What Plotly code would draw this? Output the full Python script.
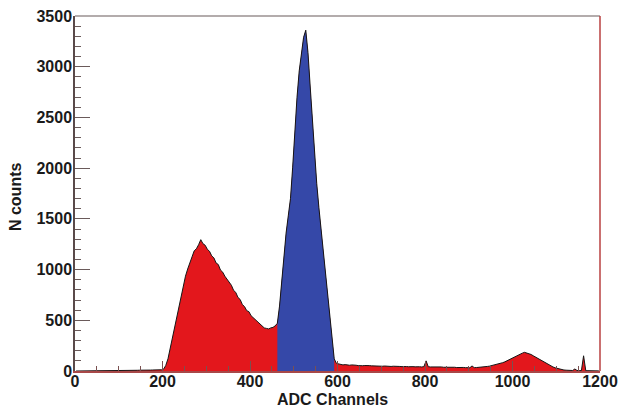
import plotly.graph_objects as go

# Histogram: 5-channel bins from 0 to 1200 (left edges)
bin_width = 5
counts_low = [0, 0, 0, 1, 2, 2, 3, 2, 3, 4, 3, 4, 3, 5, 4, 4, 5, 4, 5, 6,
              5, 6, 5, 6, 7, 6, 7, 6, 7, 8, 7, 8, 9, 8, 9, 10, 9, 10, 11, 12]  # 0-195
counts_compton = [18, 55, 120, 225, 330, 440, 535, 645, 755, 850, 935, 1005, 1075,
                  1125, 1185, 1205, 1245, 1295, 1255, 1240, 1200, 1180, 1135, 1115,
                  1065, 1050, 995, 975, 935, 905, 865, 845, 795, 775, 725, 705, 655,
                  635, 595, 585, 545, 525, 495, 485, 455, 445, 425, 420, 415, 425,
                  430, 445]  # 200-455
counts_photopeak = [470, 640, 900, 1150, 1360, 1530, 1700, 2010, 2390, 2700, 2960,
                    3140, 3290, 3360, 3140, 2810, 2460, 2150, 1850, 1610, 1390, 1200,
                    990, 800, 580, 330, 120]  # 460-590 (selected window)
counts_mid = [75, 68, 62, 60, 63, 58, 57, 60, 55, 57, 53, 56, 52, 54, 50, 53, 51, 49,
              52, 48, 50, 47, 49, 46, 48, 45, 47, 44, 46, 45, 43, 46, 44, 42, 45, 43,
              41, 44, 42, 40, 43, 100, 42, 40, 41, 39, 40, 38, 40, 37, 38, 36, 38, 35,
              37, 34, 36, 34, 35, 33, 34, 32, 50, 33, 34, 35, 37]  # 595-925
counts_high = [39, 42, 45, 48, 53, 57, 62, 68, 74, 82, 90, 101, 114, 126, 139, 150,
               160, 171, 176, 184, 179, 172, 163, 150, 137, 124, 110, 97, 85, 73, 61,
               50, 40, 31, 24, 18, 14, 10, 8, 7, 6, 5, 20, 5, 4, 4, 150, 3, 3, 2, 2,
               2, 1, 1]  # 930-1195

x_ticks = [0, 200, 400, 600, 800, 1000, 1200]
y_ticks = [0, 500, 1000, 1500, 2000, 2500, 3000, 3500]
x_title = "ADC Channels"
y_title = "N counts"

counts = counts_low + counts_compton + counts_photopeak + counts_mid + counts_high
centers = [i * bin_width + bin_width / 2 for i in range(len(counts))]

start_blue = len(counts_low) + len(counts_compton)
end_blue = start_blue + len(counts_photopeak)
x_blue = centers[start_blue:end_blue]
y_blue = counts_photopeak

RED = "#E3171C"
BLUE = "#3548A8"

fig = go.Figure()
fig.add_trace(go.Scatter(x=centers, y=counts, mode="lines", line=dict(width=0, color=RED),
                         fill="tozeroy", fillcolor=RED, hoverinfo="skip", showlegend=False))
fig.add_trace(go.Scatter(x=x_blue, y=y_blue, mode="lines", line=dict(width=0, color=BLUE),
                         fill="tozeroy", fillcolor=BLUE, hoverinfo="skip", showlegend=False))
fig.add_trace(go.Scatter(x=centers, y=counts, mode="lines", line=dict(width=1, color="#151515"),
                         hoverinfo="skip", showlegend=False))

font = dict(family="Liberation Sans, Arial, sans-serif", size=16, color="#1a1a1a", weight="bold")

fig.update_layout(
    width=619, height=409,
    margin=dict(l=75, r=19, t=16, b=38),
    paper_bgcolor="white", plot_bgcolor="white",
    font=font,
    xaxis=dict(range=[0, 1200], tickvals=x_ticks, ticks="inside", ticklen=10, tickwidth=1,
               tickcolor="#7a5050", showline=True, linecolor="#a84848", linewidth=1.5,
               showgrid=False, zeroline=False, tickfont=font, automargin=False,
               ticklabelstandoff=-5, ticklabeloverflow="allow",
               minor=dict(dtick=50, tick0=0, ticks="inside", ticklen=5, tickcolor="#7a5050", showgrid=False)),
    yaxis=dict(range=[0, 3500], tickvals=y_ticks, ticks="inside", ticklen=15, tickwidth=1,
               tickcolor="#6a5a5a", showline=True, linecolor="#5a4a4a", linewidth=1.5,
               showgrid=False, zeroline=False, tickfont=font, automargin=False,
               ticklabelstandoff=-2, ticklabeloverflow="allow",
               minor=dict(dtick=100, tick0=0, ticks="inside", ticklen=6, tickcolor="#6a5a5a", showgrid=False)),
    annotations=[
        dict(text=x_title, xref="paper", yref="paper", x=0.49, y=0, xanchor="center",
             yanchor="middle", yshift=-28, showarrow=False, font=font),
        dict(text=y_title, xref="paper", yref="paper", x=0, y=0.49, xanchor="center",
             yanchor="middle", xshift=-60, textangle=-90, showarrow=False, font=font),
    ],
    shapes=[
        dict(type="line", xref="paper", yref="paper", x0=0, x1=1, y0=1, y1=1,
             line=dict(color="#9a9090", width=1.5)),
        dict(type="line", xref="paper", yref="paper", x0=1, x1=1, y0=0, y1=1,
             line=dict(color="#b84040", width=1.5)),
    ],
)

fig.write_html("out.html", config={"displayModeBar": False},
               post_script="document.body.style.margin='0';document.body.style.overflow='hidden';")
